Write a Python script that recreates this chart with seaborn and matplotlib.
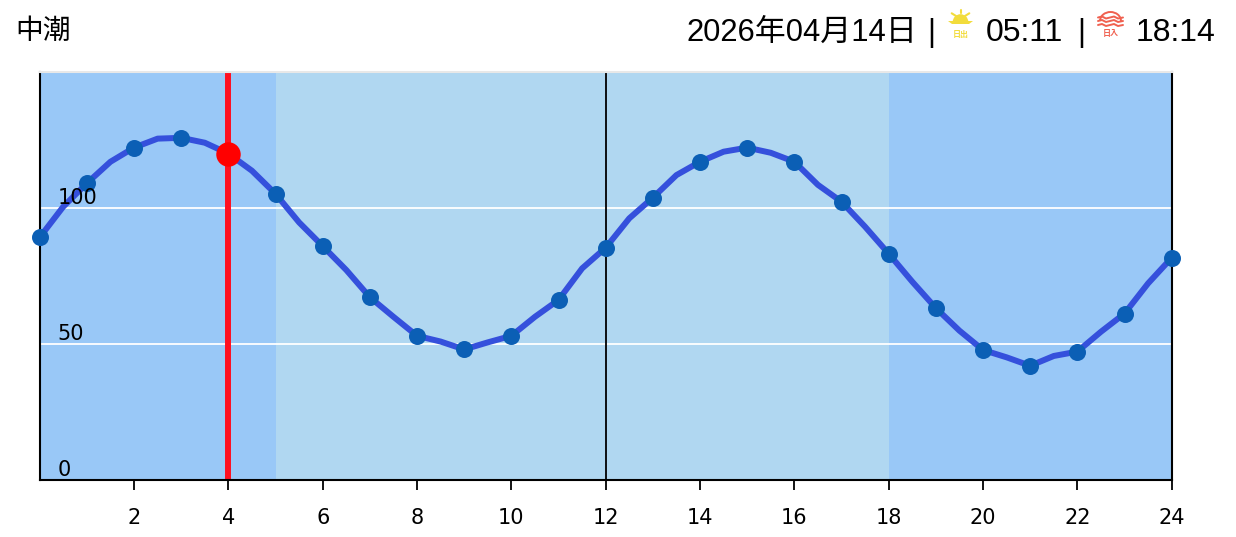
import matplotlib
matplotlib.use("Agg")
import matplotlib.pyplot as plt
from matplotlib.patches import Wedge, Arc, Polygon
import seaborn as sns

hours = list(range(25))
tide = [89.2, 109.1, 122.2, 125.8, 120, 105.2, 86, 67.2, 53, 48, 53, 66.2, 85.4,
        103.8, 117, 122.2, 117, 102.3, 83.2, 63.2, 47.8, 42, 47.2, 61.2, 81.7]
# the curve is sampled finer than the hourly dots, read at each half hour
half_hours = [h + 0.5 for h in range(24)]
tide_half = [100.5, 117, 125.5, 124, 113.7, 94.7, 77.2, 60, 50.9, 50.6, 60, 77.8,
             96.2, 112.1, 120.7, 120.3, 108.5, 93.1, 72.9, 54.9, 45.1, 45.6, 54.5, 72.3]
now_hour = 4
now_value = 120
day_bands = [(0, 5, "#99C8F7"), (5, 18, "#B0D7F1"), (18, 24, "#99C8F7")]
x_ticks = list(range(2, 25, 2))
y_labels = [0, 50, 100]
tide_name = "中潮"
date_text = "2026年04月14日"
sunrise_text = "05:11"
sunset_text = "18:14"

W, H = 1236, 537
sns.set_theme(style="white")
plt.rcParams["font.family"] = ["DejaVu Sans", "Noto Sans CJK JP"]

fig = plt.figure(figsize=(W / 100, H / 100), dpi=100)
ax = fig.add_axes([39.7 / W, 1 - 480 / H, 1132 / W, 408 / H])

for x0, x1, col in day_bands:
    ax.axvspan(x0, x1, color=col, lw=0, zorder=0)
for v in [50, 100]:
    ax.axhline(v, color="white", lw=1.3, zorder=1)
ax.axvline(12, color="black", lw=1.3, zorder=1)
ax.axvline(now_hour, color="#FF1020", lw=4.3, zorder=2)

curve = sorted(zip(hours + half_hours, tide + tide_half))
sns.lineplot(x=[c[0] for c in curve], y=[c[1] for c in curve], ax=ax, color="#3550DC",
             lw=4.3, zorder=3, solid_joinstyle="round", errorbar=None, clip_on=False)
sns.scatterplot(x=hours, y=tide, ax=ax, color="#0B5FB5", s=150, linewidth=0, zorder=4, clip_on=False)
sns.scatterplot(x=[now_hour], y=[now_value], ax=ax, color="#FF0000", s=310, linewidth=0, zorder=5, clip_on=False)

ax.set_xlim(0, 24)
ax.set_ylim(0, 150)
ax.set_xticks(x_ticks)
ax.set_xticklabels([str(t) for t in x_ticks], fontsize=15, color="black")
ax.set_yticks([])
ax.tick_params(axis="x", bottom=True, length=7, width=1.3, color="black", pad=13.5)
for v in y_labels:
    ax.annotate(str(v), (0, v), xytext=(18, 0), textcoords="offset pixels", fontsize=15,
                color="black", va="bottom", ha="left", zorder=6)
for side in ["left", "bottom", "right"]:
    ax.spines[side].set_color("black")
    ax.spines[side].set_linewidth(1.5)
ax.spines["top"].set_color("#E8E8E8")
ax.spines["top"].set_linewidth(1.5)

# header drawn in pixel coordinates
hd = fig.add_axes([0, 0, 1, 1], zorder=10)
hd.set_xlim(0, W)
hd.set_ylim(H, 0)
hd.axis("off")
head_font = ["Liberation Sans", "Noto Sans CJK JP"]
hd.text(15.5, 31, tide_name, fontsize=20, va="center", ha="left", family=["Noto Sans CJK JP"], color="black")
hd.text(686, 33, date_text, fontsize=22.3, va="center", ha="left", family=head_font, color="black")
hd.text(931, 33, "|", fontsize=22, va="center", ha="center", family=head_font, color="black")
hd.text(986, 33, sunrise_text, fontsize=23, va="center", ha="left", family=head_font, color="black")
hd.text(1081, 33, "|", fontsize=22, va="center", ha="center", family=head_font, color="black")
hd.text(1136, 33, sunset_text, fontsize=23, va="center", ha="left", family=head_font, color="black")

# sunrise icon
sun = "#F2DC3C"
hd.add_patch(Wedge((960.5, 22), 7.8, 180, 360, color=sun, lw=0))
hd.add_patch(Polygon([(948, 21), (973, 21), (969, 24), (952, 24)], color=sun, lw=0))
hd.plot([960.5, 960.5], [9.5, 12.7], color=sun, lw=1.5)
hd.plot([951.7, 956], [13.3, 16], color=sun, lw=1.5)
hd.plot([969.3, 965], [13.3, 16], color=sun, lw=1.5)
hd.text(960.5, 34, "日出", fontsize=5.8, va="center", ha="center", family=["Noto Sans CJK JP"],
        color=sun, fontweight="bold")

# sunset icon
dusk = "#F0604F"
hd.add_patch(Arc((1110.5, 21), 21, 18, theta1=180, theta2=360, color=dusk, lw=1.4))
for y in [17.5, 21, 25]:
    hd.plot([1098, 1102, 1106, 1110, 1114, 1118, 1123],
            [y, y - 1, y + 1, y, y - 1, y + 1, y], color=dusk, lw=1.4)
hd.text(1110.5, 33.5, "日入", fontsize=5.8, va="center", ha="center", family=["Noto Sans CJK JP"],
        color=dusk, fontweight="bold")

fig.savefig("out.png", dpi=100)
